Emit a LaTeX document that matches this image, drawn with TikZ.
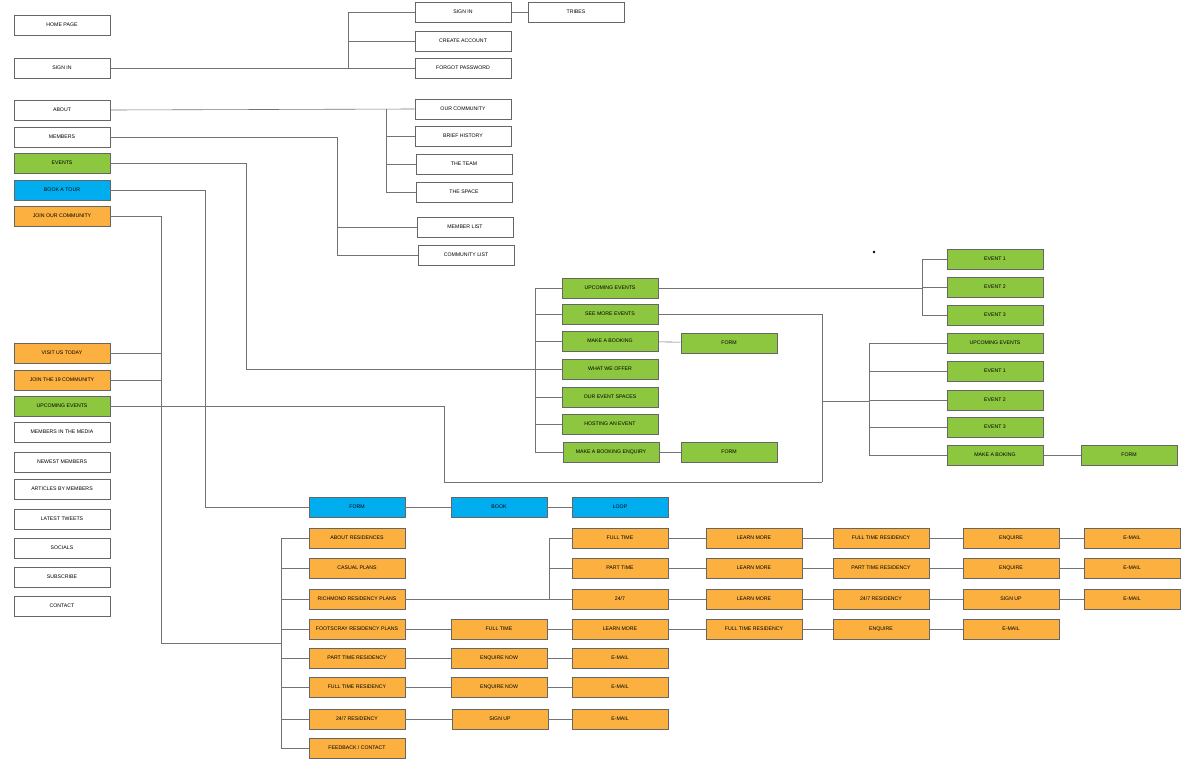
\documentclass[tikz,border=0pt]{standalone}
\usepackage{fontspec}
\setmainfont{Liberation Sans}
\usetikzlibrary{positioning}
\definecolor{evgreen}{HTML}{8DC63F}
\definecolor{tourblue}{HTML}{00AEEF}
\definecolor{joinorange}{HTML}{FBB040}
\tikzset{
  box/.style={draw=black!60, line width=0.6pt, minimum width=96pt, minimum height=20pt,
    inner sep=0pt, font=\fontsize{5.2}{6}\selectfont},
  grn/.style={box, fill=evgreen},
  blu/.style={box, fill=tourblue},
  org/.style={box, fill=joinorange},
  link/.style={draw=black!55, line width=0.6pt}
}
\begin{document}
\begin{tikzpicture}[x=1pt,y=-1pt]
                    \useasboundingbox (0,0) rectangle (1200,761);
                    % left menu
                    \node[box] (home) at (62,25) {HOME PAGE};
                    \node[box] (signin) at (62,68) {SIGN IN};
                    \node[box] (about) at (62,110) {ABOUT};
                    \node[box] (members) at (62,137) {MEMBERS};
                    \node[grn] (events) at (62,163) {EVENTS};
                    \node[blu] (tour) at (62,190) {BOOK A TOUR};
                    \node[org] (join) at (62,216) {JOIN OUR COMMUNITY};
                    \node[org] (visit) at (62,353) {VISIT US TODAY};
                    \node[org] (join19) at (62,380) {JOIN THE 19 COMMUNITY};
                    \node[grn] (upc) at (62,406) {UPCOMING EVENTS};
                    \node[box] (media) at (62,432) {MEMBERS IN THE MEDIA};
                    \node[box] (newest) at (62,462) {NEWEST MEMBERS};
                    \node[box] (articles) at (62,489) {ARTICLES BY MEMBERS};
                    \node[box] (tweets) at (62,519) {LATEST TWEETS};
                    \node[box] (socials) at (62,548) {SOCIALS};
                    \node[box] (subscribe) at (62,577) {SUBSCRIBE};
                    \node[box] (contact) at (62,606) {CONTACT};

                    % sign in / about / members
                    \node[box] (s-signin) at (463,12) {SIGN IN};
                    \node[box] (s-tribes) at (576,12) {TRIBES};
                    \node[box] (s-create) at (463,41) {CREATE ACCOUNT};
                    \node[box] (s-forgot) at (463,68) {FORGOT PASSWORD};
                    \node[box] (a-comm) at (463,109) {OUR COMMUNITY};
                    \node[box] (a-hist) at (463,136) {BRIEF HISTORY};
                    \node[box] (a-team) at (464,164) {THE TEAM};
                    \node[box] (a-space) at (464,192) {THE SPACE};
                    \node[box] (m-list) at (465,227) {MEMBER LIST};
                    \node[box] (m-comm) at (466,255) {COMMUNITY LIST};

                    % events
                    \node[grn] (g-up) at (610,288) {UPCOMING EVENTS};
                    \node[grn] (g-see) at (610,314) {SEE MORE EVENTS};
                    \node[grn] (g-book) at (610,341) {MAKE A BOOKING};
                    \node[grn] (g-form1) at (729,343) {FORM};
                    \node[grn] (g-offer) at (610,369) {WHAT WE OFFER};
                    \node[grn] (g-spaces) at (610,397) {OUR EVENT SPACES};
                    \node[grn] (g-host) at (610,424) {HOSTING AN EVENT};
                    \node[grn] (g-enq) at (611,452) {MAKE A BOOKING ENQUIRY};
                    \node[grn] (g-form2) at (729,452) {FORM};
                    \node[grn] (e-1) at (995,259) {EVENT 1};
                    \node[grn] (e-2) at (995,287) {EVENT 2};
                    \node[grn] (e-3) at (995,315) {EVENT 3};
                    \node[grn] (r-up) at (995,343) {UPCOMING EVENTS};
                    \node[grn] (r-1) at (995,371) {EVENT 1};
                    \node[grn] (r-2) at (995,400) {EVENT 2};
                    \node[grn] (r-3) at (995,427) {EVENT 3};
                    \node[grn] (r-book) at (995,455) {MAKE A BOKING};
                    \node[grn] (r-form) at (1129,455) {FORM};
                    \fill (874,252) circle (1.3pt);

                    % tour
                    \node[blu] (t-form) at (357,507) {FORM};
                    \node[blu] (t-book) at (499,507) {BOOK};
                    \node[blu] (t-loop) at (620,507) {LOOP};

                    % residencies
                    \node[org] (o-about) at (357,538) {ABOUT RESIDENCES};
                    \node[org] (o-casual) at (357,568) {CASUAL PLANS};
                    \node[org] (o-rich) at (357,599) {RICHMOND RESIDENCY PLANS};
                    \node[org] (o-foot) at (357,629) {FOOTSCRAY RESIDENCY PLANS};
                    \node[org] (o-part) at (357,658) {PART TIME RESIDENCY};
                    \node[org] (o-full) at (357,687) {FULL TIME RESIDENCY};
                    \node[org] (o-247) at (357,719) {24/7 RESIDENCY};
                    \node[org] (o-fb) at (357,748) {FEEDBACK / CONTACT};
                    \node[org] (f-full) at (499,629) {FULL TIME};
                    \node[org] (f-learn) at (620,629) {LEARN MORE};
                    \node[org] (f-res) at (754,629) {FULL TIME RESIDENCY};
                    \node[org] (f-enq) at (881,629) {ENQUIRE};
                    \node[org] (f-mail) at (1011,629) {E-MAIL};
                    \node[org] (pt-enq) at (499,658) {ENQUIRE NOW};
                    \node[org] (pt-mail) at (620,658) {E-MAIL};
                    \node[org] (ft-enq) at (499,687) {ENQUIRE NOW};
                    \node[org] (ft-mail) at (620,687) {E-MAIL};
                    \node[org] (tf-sign) at (500,719) {SIGN UP};
                    \node[org] (tf-mail) at (620,719) {E-MAIL};
                    \node[org] (p-full) at (620,538) {FULL TIME};
                    \node[org] (p-part) at (620,568) {PART TIME};
                    \node[org] (p-247) at (620,599) {24/7};
                    \node[org] (p-l1) at (754,538) {LEARN MORE};
                    \node[org] (p-l2) at (754,568) {LEARN MORE};
                    \node[org] (p-l3) at (754,599) {LEARN MORE};
                    \node[org] (p-r1) at (881,538) {FULL TIME RESIDENCY};
                    \node[org] (p-r2) at (881,568) {PART TIME RESIDENCY};
                    \node[org] (p-r3) at (881,599) {24/7 RESIDENCY};
                    \node[org] (p-e1) at (1011,538) {ENQUIRE};
                    \node[org] (p-e2) at (1011,568) {ENQUIRE};
                    \node[org] (p-e3) at (1011,599) {SIGN UP};
                    \node[org] (p-m1) at (1132,538) {E-MAIL};
                    \node[org] (p-m2) at (1132,568) {E-MAIL};
                    \node[org] (p-m3) at (1132,599) {E-MAIL};

                    % bus points
                    \coordinate (b-sign) at (348,0);
                    \coordinate (b-about) at (386,0);
                    \coordinate (b-mem) at (337,0);
                    \coordinate (b-ev) at (246,0);
                    \coordinate (b-tour) at (205,0);
                    \coordinate (b-join) at (161,643);
                    \coordinate (b-org) at (281,0);
                    \coordinate (b-grn) at (535,0);
                    \coordinate (b-e) at (922,0);
                    \coordinate (b-low) at (444,482);
                    \coordinate (b-see) at (822,482);
                    \coordinate (b-r) at (869,401);
                    \coordinate (b-p) at (549,0);

                    \begin{scope}[link]
                    \draw (signin.east) -- (signin.east -| b-sign) |- (s-signin.west);
                    \draw (b-sign |- s-create) -- (s-create.west);
                    \draw (b-sign |- signin) -- (s-forgot.west);
                    \draw (s-signin) -- (s-tribes);
                    \draw (about.east) -- (a-comm.west);
                    \draw (b-about |- a-comm) |- (a-space.west);
                    \draw (b-about |- a-hist) -- (a-hist.west);
                    \draw (b-about |- a-team) -- (a-team.west);
                    \draw (members.east) -| (b-mem |- m-comm) -- (m-comm.west);
                    \draw (b-mem |- m-list) -- (m-list.west);
                    \draw (events.east) -| (b-ev |- g-offer) -- (g-offer.west);
                    \draw (tour.east) -| (b-tour |- t-form) -- (t-form.west);
                    \draw (t-form) -- (t-book);
                    \draw (t-book) -- (t-loop);
                    \draw (join.east) -| (b-join) -- (b-join -| b-org);
                    \draw (visit.east) -- (visit.east -| b-join);
                    \draw (join19.east) -- (join19.east -| b-join);
                    \draw (upc.east) -| (b-low) -- (b-see);
                    \draw (g-see.east) -| (b-see);
                    \draw (b-r -| b-see) -- (b-r);
                    % green bus
                    \draw (b-grn |- g-up) -- (b-grn |- g-enq);
                    \foreach \n in {g-up,g-see,g-book,g-spaces,g-host,g-enq}
                      \draw (b-grn |- \n) -- (\n.west);
                    \draw (g-book) -- (g-form1);
                    \draw (g-enq) -- (g-form2);
                    \draw (g-up.east) -- (g-up.east -| b-e);
                    \draw (b-e |- e-1) -- (b-e |- e-3);
                    \foreach \n in {e-1,e-2,e-3}
                      \draw (b-e |- \n) -- (\n.west);
                    \draw (b-r |- r-up) -- (b-r |- r-book);
                    \foreach \n in {r-up,r-1,r-2,r-3,r-book}
                      \draw (b-r |- \n) -- (\n.west);
                    \draw (r-book) -- (r-form);
                    % orange bus
                    \draw (b-org |- o-about) -- (b-org |- o-fb);
                    \foreach \n in {o-about,o-casual,o-rich,o-foot,o-part,o-full,o-247,o-fb}
                      \draw (b-org |- \n) -- (\n.west);
                    \draw (o-rich) -- (p-247);
                    \draw (b-p |- p-full) -- (b-p |- p-247);
                    \draw (b-p |- p-full) -- (p-full.west);
                    \draw (b-p |- p-part) -- (p-part.west);
                    \foreach \a/\b in {o-foot/f-full,f-full/f-learn,f-learn/f-res,f-res/f-enq,f-enq/f-mail,
                      o-part/pt-enq,pt-enq/pt-mail,o-full/ft-enq,ft-enq/ft-mail,o-247/tf-sign,tf-sign/tf-mail,
                      p-full/p-l1,p-l1/p-r1,p-r1/p-e1,p-e1/p-m1,p-part/p-l2,p-l2/p-r2,p-r2/p-e2,p-e2/p-m2,
                      p-247/p-l3,p-l3/p-r3,p-r3/p-e3,p-e3/p-m3}
                      \draw (\a) -- (\b);
                    \end{scope}
                \end{tikzpicture}
\end{document}
